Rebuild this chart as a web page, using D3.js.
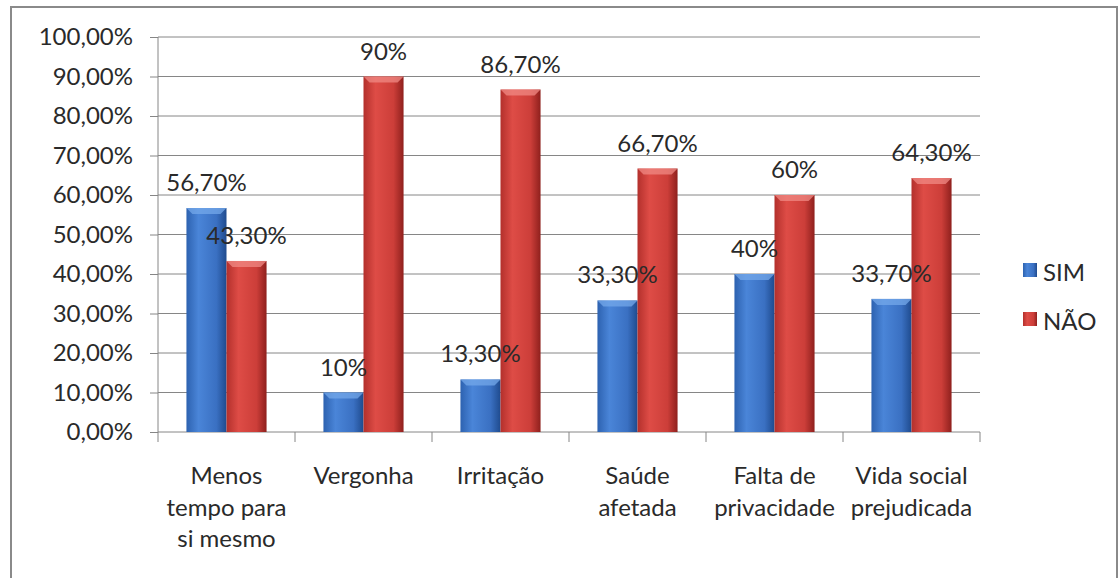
<!DOCTYPE html>
<html>
<head>
<meta charset="utf-8">
<script src="https://cdn.jsdelivr.net/npm/d3@7"></script>
<style>
  body { margin: 0; background: #fff; }
  text { font-family: Lato, "Open Sans", sans-serif; fill: #2a2a2a; }
</style>
</head>
<body>
<div id="chart"></div>
<script>
const categories = ["Menos tempo para si mesmo", "Vergonha", "Irritação", "Saúde afetada", "Falta de privacidade", "Vida social prejudicada"];
const catLines = [["Menos", "tempo para", "si mesmo"], ["Vergonha"], ["Irritação"], ["Saúde", "afetada"], ["Falta de", "privacidade"], ["Vida social", "prejudicada"]];
const series = ["SIM", "NÃO"];
const simValues = [56.7, 10, 13.3, 33.3, 40, 33.7];
const naoValues = [43.3, 90, 86.7, 66.7, 60, 64.3];
const simLabels = ["56,70%", "10%", "13,30%", "33,30%", "40%", "33,70%"];
const naoLabels = ["43,30%", "90%", "86,70%", "66,70%", "60%", "64,30%"];
const yTicks = [0, 10, 20, 30, 40, 50, 60, 70, 80, 90, 100];

const W = 1119, H = 578;
const plot = { left: 158, right: 980, top: 37, bottom: 432 };
const FS = "24px";

const svg = d3.select("#chart").append("svg")
  .attr("width", W).attr("height", H);

// gradients for the bevelled bars
const defs = svg.append("defs");
function grad(id, stops) {
  const g = defs.append("linearGradient").attr("id", id)
    .attr("x1", 0).attr("x2", 1).attr("y1", 0).attr("y2", 0);
  stops.forEach(s => g.append("stop").attr("offset", s[0]).attr("stop-color", s[1]));
}
grad("gSIM", [[0, "#2d62b0"], [0.3, "#4a85d8"], [0.75, "#3a70c2"], [1, "#1f4b8e"]]);
grad("gNAO", [[0, "#b3302c"], [0.3, "#de4c46"], [0.75, "#cc3e39"], [1, "#8f201d"]]);

// outer frame
svg.append("rect")
  .attr("x", 11).attr("y", 7).attr("width", W - 13).attr("height", H)
  .attr("fill", "none").attr("stroke", "#8a8a8a").attr("stroke-width", 2);

const x0 = d3.scaleBand().domain(categories).range([plot.left, plot.right]).paddingInner(0).paddingOuter(0);
const x1 = d3.scaleBand().domain(series).range([0, x0.bandwidth()]).paddingOuter(0.71).paddingInner(0);
const y = d3.scaleLinear().domain([0, 100]).range([plot.bottom, plot.top]);

// gridlines
svg.append("g").selectAll("line").data(yTicks.slice(1)).join("line")
  .attr("x1", plot.left).attr("x2", plot.right)
  .attr("y1", d => y(d)).attr("y2", d => y(d))
  .attr("stroke", "#868686").attr("stroke-width", 1);

// y axis
const yAxis = svg.append("g").attr("transform", `translate(${plot.left},0)`)
  .call(d3.axisLeft(y).tickValues(yTicks).tickSize(8).tickPadding(17)
    .tickFormat(d => d3.format(".2f")(d).replace(".", ",") + "%"));
yAxis.select(".domain").attr("stroke", "#868686").attr("d", `M0,${plot.top}V${plot.bottom}`);
yAxis.selectAll(".tick line").attr("stroke", "#868686");
yAxis.selectAll(".tick text").style("font-size", FS).style("font-family", "Lato, sans-serif").attr("fill", "#2a2a2a");

// x axis
const xAxis = svg.append("g").attr("transform", `translate(0,${plot.bottom})`);
xAxis.append("line").attr("x1", plot.left).attr("x2", plot.right)
  .attr("stroke", "#868686");
xAxis.selectAll("line.tk").data(d3.range(categories.length + 1)).join("line")
  .attr("class", "tk")
  .attr("x1", i => plot.left + i * x0.bandwidth()).attr("x2", i => plot.left + i * x0.bandwidth())
  .attr("y1", 0).attr("y2", 10).attr("stroke", "#868686");
const xl = xAxis.selectAll("text.cat").data(categories).join("text")
  .attr("class", "cat")
  .attr("text-anchor", "middle")
  .style("font-size", FS)
  .attr("transform", d => `translate(${x0(d) + x0.bandwidth() / 2},52)`);
xl.each(function(d, i) {
  d3.select(this).selectAll("tspan").data(catLines[i]).join("tspan")
    .attr("x", 0).attr("dy", (t, j) => j === 0 ? 0 : 31.5).text(t => t);
});

// bars
const rows = categories.map((c, i) => ({
  cat: c,
  vals: [
    { s: "SIM", v: simValues[i], lab: simLabels[i], fill: "url(#gSIM)", top: "#74a8ea" },
    { s: "NÃO", v: naoValues[i], lab: naoLabels[i], fill: "url(#gNAO)", top: "#f08a84" }
  ]
}));
const groups = svg.append("g").selectAll("g").data(rows).join("g")
  .attr("transform", d => `translate(${x0(d.cat)},0)`);
groups.selectAll("rect.bar").data(d => d.vals).join("rect")
  .attr("class", "bar")
  .attr("x", d => x1(d.s)).attr("width", x1.bandwidth())
  .attr("y", d => y(d.v)).attr("height", d => y(0) - y(d.v))
  .attr("fill", d => d.fill);
// small top bevel
groups.selectAll("path.bev").data(d => d.vals).join("path")
  .attr("class", "bev")
  .attr("d", d => {
    const xa = x1(d.s), xb = xa + x1.bandwidth(), t = y(d.v);
    return `M${xa},${t}L${xb},${t}L${xb - 6},${t + 6}L${xa + 6},${t + 6}Z`;
  })
  .attr("fill", d => d.top).attr("opacity", 0.75);

// value labels
groups.selectAll("text.val").data(d => d.vals).join("text")
  .attr("class", "val")
  .attr("x", d => x1(d.s) + x1.bandwidth() / 2)
  .attr("y", d => y(d.v) - 17)
  .attr("text-anchor", "middle")
  .style("font-size", FS)
  .text(d => d.lab);

// legend
const legend = svg.append("g").attr("transform", "translate(1023,270)");
const lg = legend.selectAll("g").data(series).join("g")
  .attr("transform", (d, i) => `translate(0,${i * 49})`);
lg.append("rect").attr("x", 0).attr("y", -7).attr("width", 14).attr("height", 14)
  .attr("fill", (d, i) => i === 0 ? "url(#gSIM)" : "url(#gNAO)");
lg.append("text").attr("x", 20).attr("y", 11).style("font-size", FS).text(d => d);
</script>
</body>
</html>
